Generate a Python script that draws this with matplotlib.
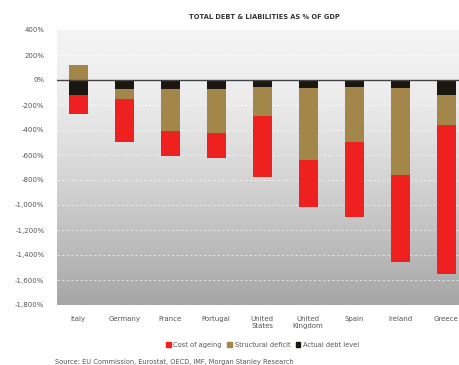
import numpy as np
import matplotlib
matplotlib.use("Agg")
import matplotlib.pyplot as plt
from matplotlib.patches import Patch
from matplotlib.colors import LinearSegmentedColormap
from matplotlib.ticker import FuncFormatter

countries = ["Italy", "Germany", "France", "Portugal", "United\nStates",
             "United\nKingdom", "Spain", "Ireland", "Greece"]
# Segments in % of GDP
actual_debt = [-120, -70, -70, -75, -58, -66, -58, -64, -120]
structural_deficit = [120, -80, -335, -350, -227, -571, -440, -696, -240]
cost_of_ageing = [-155, -345, -200, -200, -493, -381, -600, -698, -1192]
y_ticks = [400, 200, 0, -200, -400, -600, -800, -1000, -1200, -1400, -1600, -1800]

c_red = "#ee2020"
c_olive = "#a3864a"
c_black = "#1c1610"
txt = "#555555"

fig = plt.figure(figsize=(4.59, 3.65), dpi=100)
ax = fig.add_axes([57 / 459, 1 - 305 / 365, (459 - 57) / 459, 275 / 365])

# vertical grey gradient behind the bars
grad = np.linspace(0, 1, 256)[:, None]
cmap = LinearSegmentedColormap.from_list(
    "bg", ["#f4f4f4", "#ececec", "#d8d8d8", "#c0c0c0", "#a6a6a6"])
ax.imshow(grad, extent=[0, 1, 0, 1], transform=ax.transAxes, cmap=cmap,
          aspect="auto", zorder=0)

x = np.arange(len(countries))
w = 0.41
bottom_neg = np.zeros(len(countries))
bottom_pos = np.zeros(len(countries))
for vals, col in [(actual_debt, c_black), (structural_deficit, c_olive),
                  (cost_of_ageing, c_red)]:
    vals = np.array(vals, dtype=float)
    base = np.where(vals < 0, bottom_neg, bottom_pos)
    ax.bar(x, vals, w, bottom=base, color=col, zorder=3, linewidth=0)
    bottom_neg = np.where(vals < 0, bottom_neg + vals, bottom_neg)
    bottom_pos = np.where(vals >= 0, bottom_pos + vals, bottom_pos)

for t in y_ticks:
    if t == 0:
        ax.axhline(0, color="#444444", lw=1.0, zorder=4)
    elif t not in (400, -1800):
        ax.axhline(t, color="white", lw=0.6, ls=(0, (2.5, 3)), alpha=0.75, zorder=1)

ax.set_ylim(-1800, 400)
ax.set_xlim(-0.46, (459 - 57) / 46 - 0.46)
ax.set_yticks(y_ticks)
ax.yaxis.set_major_formatter(FuncFormatter(lambda v, p: f"{int(v):,}%"))
ax.set_xticks(x)
ax.set_xticklabels(countries)
ax.tick_params(axis="both", length=0, labelsize=5, labelcolor=txt)
ax.tick_params(axis="y", pad=9)
ax.tick_params(axis="x", pad=8)
for s in ax.spines.values():
    s.set_visible(False)

fig.text(0.575, 1 - 17 / 365, "TOTAL DEBT & LIABILITIES AS % OF GDP",
         ha="center", va="center", fontsize=4.8, fontweight="bold", color="#333333")

handles = [Patch(color=c_red, label="Cost of ageing"),
           Patch(color=c_olive, label="Structural deficit"),
           Patch(color=c_black, label="Actual debt level")]
fig.legend(handles=handles, loc="center", bbox_to_anchor=(0.572, 1 - 345 / 365),
           ncol=3, frameon=False, fontsize=4.8, handlelength=0.7, handleheight=0.7,
           handletextpad=0.4, columnspacing=0.8, labelcolor=txt)

fig.text(55 / 459, 1 - 362 / 365,
         "Source: EU Commission, Eurostat, OECD, IMF, Morgan Stanley Research",
         ha="left", va="center", fontsize=4.8, color=txt)

fig.savefig("out.png", dpi=100)
